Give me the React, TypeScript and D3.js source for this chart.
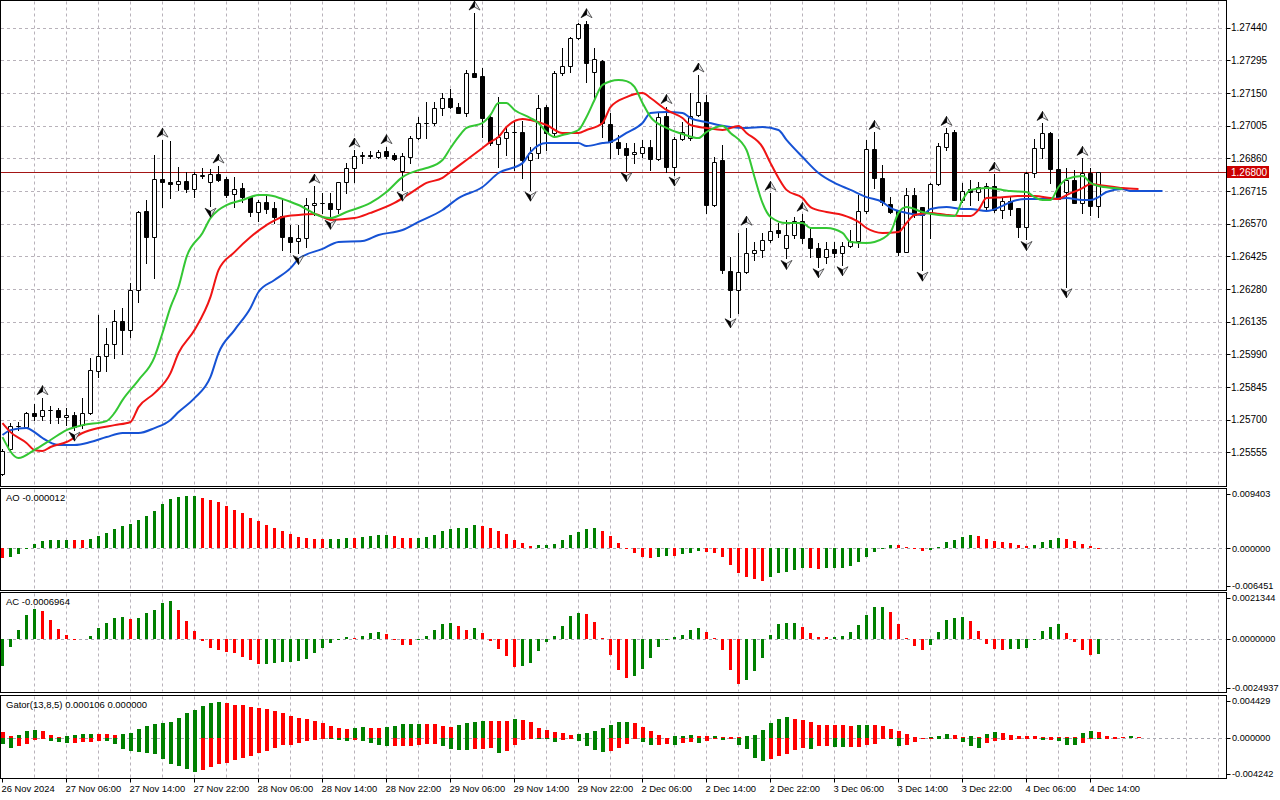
import * as d3 from 'd3';

// H1 candles, 26 Nov 2024 22:00 .. 4 Dec 2024 15:00 (138 bars)
const opens = [
  1.25458, 1.25572, 1.2567, 1.25669, 1.25728, 1.25718, 1.25743, 1.25743, 1.2571, 1.25723,
  1.25676, 1.25731, 1.25917, 1.25985, 1.26034, 1.26136, 1.26098, 1.26275, 1.26626, 1.26512,
  1.26767, 1.26756, 1.26745, 1.26759, 1.26722, 1.26783, 1.26756, 1.26789, 1.26767, 1.267,
  1.26727, 1.26687, 1.26623, 1.26668, 1.26638, 1.26604, 1.26512, 1.26495, 1.26505, 1.26653,
  1.2666, 1.26663, 1.26634, 1.26756, 1.26816, 1.2687, 1.26873, 1.26868, 1.26893, 1.26875,
  1.26805, 1.26868, 1.26952, 1.27015, 1.27015, 1.27082, 1.27126, 1.27089, 1.2706, 1.27237,
  1.27226, 1.27045, 1.26924, 1.26949, 1.26978, 1.26978, 1.26853, 1.26882, 1.27086, 1.26971,
  1.2724, 1.2727, 1.27393, 1.27455, 1.27245, 1.27292, 1.27012, 1.26934, 1.26905, 1.26878,
  1.26886, 1.26909, 1.26857, 1.27048, 1.26823, 1.26945, 1.26949, 1.27053, 1.27112, 1.26653,
  1.26853, 1.26362, 1.26276, 1.26357, 1.26439, 1.26453, 1.26498, 1.26542, 1.26461, 1.2652,
  1.26582, 1.26505, 1.26461, 1.26421, 1.26456, 1.26442, 1.26471, 1.26493, 1.26627, 1.269,
  1.26771, 1.26657, 1.26631, 1.26446, 1.26697, 1.26642, 1.26616, 1.26746, 1.26912, 1.26978,
  1.26675, 1.26722, 1.26712, 1.26645, 1.26737, 1.26631, 1.26672, 1.26638, 1.26554, 1.26796,
  1.26904, 1.26974, 1.26811, 1.26712, 1.26764, 1.2666, 1.26796, 1.26648,
];
const highs = [
  1.25572, 1.25686, 1.25691, 1.25735, 1.25772, 1.25798, 1.25761, 1.2575, 1.2575, 1.25735,
  1.25795, 1.25972, 1.26164, 1.26105, 1.26187, 1.26194, 1.26308, 1.26626, 1.26675, 1.26875,
  1.26941, 1.26937, 1.2682, 1.26801, 1.26801, 1.26816, 1.26811, 1.26826, 1.26776, 1.26776,
  1.26752, 1.26693, 1.26675, 1.26697, 1.26668, 1.26675, 1.26564, 1.26564, 1.26682, 1.26737,
  1.26705, 1.26705, 1.26756, 1.26838, 1.26897, 1.2689, 1.26894, 1.26897, 1.26912, 1.26885,
  1.26882, 1.26959, 1.27045, 1.27112, 1.27112, 1.27149, 1.27166, 1.27104, 1.27252, 1.27505,
  1.2726, 1.27052, 1.27134, 1.27001, 1.2703, 1.27027, 1.26912, 1.27141, 1.27097, 1.27249,
  1.27348, 1.274, 1.27459, 1.27471, 1.27348, 1.27297, 1.2706, 1.26964, 1.26927, 1.26927,
  1.26942, 1.26942, 1.2706, 1.2709, 1.26957, 1.27023, 1.27149, 1.2723, 1.27142, 1.26868,
  1.2692, 1.26424, 1.26527, 1.2655, 1.2649, 1.26527, 1.26705, 1.26572, 1.26587, 1.26601,
  1.26612, 1.2655, 1.26483, 1.2649, 1.2649, 1.2649, 1.26542, 1.26698, 1.26942, 1.26975,
  1.2683, 1.2669, 1.26631, 1.26727, 1.26727, 1.26645, 1.26749, 1.26927, 1.26993, 1.26986,
  1.26749, 1.26764, 1.26756, 1.26749, 1.2679, 1.2669, 1.2669, 1.26638, 1.26801, 1.26944,
  1.27015, 1.26978, 1.26944, 1.26816, 1.26808, 1.2686, 1.26816, 1.268,
];
const lows = [
  1.25454, 1.25565, 1.25654, 1.25665, 1.25701, 1.25698, 1.25686, 1.25686, 1.25676, 1.25654,
  1.25665, 1.25725, 1.25888, 1.25917, 1.25972, 1.25991, 1.26068, 1.26224, 1.26397, 1.26327,
  1.26645, 1.26685, 1.26719, 1.26709, 1.2669, 1.26771, 1.26648, 1.26761, 1.2669, 1.26645,
  1.26668, 1.26604, 1.26583, 1.26616, 1.26571, 1.26453, 1.26446, 1.26438, 1.26468, 1.26609,
  1.26616, 1.26594, 1.26616, 1.26705, 1.26756, 1.26838, 1.2686, 1.2686, 1.2686, 1.26852,
  1.26719, 1.26838, 1.26944, 1.26949, 1.27008, 1.27052, 1.27082, 1.2706, 1.27048, 1.2722,
  1.26956, 1.26919, 1.26823, 1.26875, 1.26808, 1.26771, 1.26719, 1.2686, 1.26897, 1.26956,
  1.2723, 1.27245, 1.2739, 1.272, 1.27119, 1.26956, 1.2686, 1.2688, 1.26806, 1.26838,
  1.26868, 1.26809, 1.26853, 1.26801, 1.26786, 1.26942, 1.26942, 1.2705, 1.26616, 1.2665,
  1.2635, 1.26157, 1.26172, 1.2635, 1.26409, 1.26424, 1.2649, 1.26513, 1.26416, 1.26505,
  1.26483, 1.26424, 1.26379, 1.26394, 1.26424, 1.26388, 1.26468, 1.26468, 1.26616, 1.26727,
  1.26653, 1.26616, 1.26431, 1.26446, 1.26601, 1.26364, 1.26505, 1.26742, 1.26897, 1.26675,
  1.26668, 1.26653, 1.26675, 1.26631, 1.26623, 1.26594, 1.26608, 1.26512, 1.265, 1.26779,
  1.2686, 1.26752, 1.26678, 1.2629, 1.2666, 1.26616, 1.26608, 1.26601,
];
const closes = [
  1.2556, 1.25672, 1.25674, 1.25728, 1.25718, 1.25743, 1.25745, 1.2571, 1.25723, 1.25669,
  1.25732, 1.2592, 1.25985, 1.26034, 1.26136, 1.26098, 1.26275, 1.2662, 1.26509, 1.26767,
  1.26756, 1.26745, 1.26759, 1.26724, 1.2679, 1.26787, 1.26789, 1.26764, 1.26697, 1.26722,
  1.26687, 1.26623, 1.26668, 1.26634, 1.26598, 1.26512, 1.2649, 1.26505, 1.26653, 1.2666,
  1.26663, 1.26634, 1.26753, 1.26816, 1.2687, 1.26873, 1.2687, 1.2689, 1.26872, 1.26856,
  1.26872, 1.26952, 1.27015, 1.27018, 1.27082, 1.27126, 1.27086, 1.27063, 1.27237, 1.27223,
  1.27038, 1.26927, 1.26953, 1.26978, 1.26975, 1.26853, 1.26882, 1.27082, 1.26971, 1.2724,
  1.2727, 1.27396, 1.27455, 1.27285, 1.273, 1.27015, 1.26934, 1.26905, 1.26875, 1.2689,
  1.26909, 1.26857, 1.27042, 1.26823, 1.26945, 1.26979, 1.27048, 1.27109, 1.26653, 1.26846,
  1.26365, 1.26276, 1.26357, 1.26442, 1.26453, 1.26498, 1.26538, 1.26527, 1.2652, 1.26582,
  1.26505, 1.26461, 1.26421, 1.26456, 1.26442, 1.26471, 1.26493, 1.26627, 1.269, 1.26772,
  1.26665, 1.26623, 1.26446, 1.26697, 1.26608, 1.26608, 1.26746, 1.26915, 1.26971, 1.26675,
  1.26716, 1.26712, 1.26731, 1.26737, 1.26631, 1.26672, 1.26634, 1.26554, 1.26796, 1.26904,
  1.26971, 1.26811, 1.26678, 1.26764, 1.2666, 1.26793, 1.26648, 1.268,
];

const fractalUpBars = [5, 20, 27, 39, 44, 48, 59, 73, 83, 87, 93, 96, 100, 109, 118, 124, 130, 135];
const fractalDownBars = [9, 26, 37, 41, 50, 66, 78, 84, 91, 98, 102, 105, 115, 128, 133];

// Alligator lines, sampled (bar position already includes the forward shift)
const jawBars = [0, 1, 3, 4, 5, 7, 9, 11, 13, 15, 17, 19, 21, 22, 24, 26, 27, 29, 31, 32, 34, 36, 37, 40, 42, 45, 47, 50, 52, 55, 57, 60, 62, 65, 66, 68, 70, 72, 73, 75, 76, 78, 80, 81, 83, 85, 86, 88, 91, 93, 95, 97, 98, 100, 102, 104, 106, 108, 110, 111, 113, 115, 116, 118, 120, 121, 123, 125, 126, 128, 130, 131, 133, 135, 136, 137, 138, 140, 141, 143, 145];
const jawValues = [1.25632, 1.25654, 1.25663, 1.25645, 1.25619, 1.25588, 1.25588, 1.25601, 1.25623, 1.25641, 1.25641, 1.25663, 1.25699, 1.25734, 1.25796, 1.2589, 1.25996, 1.26098, 1.26196, 1.26267, 1.2632, 1.26373, 1.26413, 1.26458, 1.26489, 1.26493, 1.2652, 1.26542, 1.26578, 1.26631, 1.26684, 1.26733, 1.26795, 1.26839, 1.26888, 1.26928, 1.26928, 1.26928, 1.26915, 1.26928, 1.26933, 1.26973, 1.27017, 1.27061, 1.27066, 1.27061, 1.27039, 1.27021, 1.26999, 1.26995, 1.26999, 1.26986, 1.26942, 1.26866, 1.26795, 1.26751, 1.2672, 1.26688, 1.26666, 1.2664, 1.26618, 1.26609, 1.26635, 1.26644, 1.26635, 1.26635, 1.26626, 1.26649, 1.26666, 1.2668, 1.2668, 1.2668, 1.26684, 1.26675, 1.26675, 1.26688, 1.26711, 1.26724, 1.26715, 1.26715, 1.26715];
const teethBars = [0, 1, 3, 4, 5, 6, 8, 10, 12, 14, 16, 17, 19, 21, 22, 24, 26, 27, 29, 31, 33, 35, 37, 39, 41, 44, 46, 49, 51, 53, 55, 56, 58, 60, 61, 62, 63, 65, 66, 68, 70, 72, 73, 75, 76, 78, 80, 81, 83, 85, 86, 88, 90, 92, 93, 95, 96, 97, 98, 100, 101, 103, 105, 107, 108, 110, 112, 113, 114, 116, 118, 120, 121, 122, 123, 125, 127, 129, 131, 132, 133, 135, 136, 137, 139, 140, 142];
const teethValues = [1.25685, 1.25645, 1.25597, 1.25566, 1.25561, 1.25579, 1.25601, 1.25641, 1.25663, 1.25676, 1.2569, 1.25756, 1.25818, 1.25907, 1.25996, 1.26098, 1.26245, 1.26364, 1.26444, 1.26511, 1.26564, 1.266, 1.26609, 1.26613, 1.26587, 1.26595, 1.26618, 1.26662, 1.26706, 1.26751, 1.26773, 1.268, 1.26853, 1.26906, 1.26933, 1.26955, 1.26999, 1.27035, 1.2703, 1.27008, 1.26973, 1.26973, 1.26986, 1.27017, 1.27088, 1.27132, 1.2715, 1.27128, 1.27075, 1.27039, 1.27008, 1.26995, 1.26986, 1.27004, 1.26973, 1.2691, 1.26839, 1.26773, 1.2672, 1.26684, 1.26644, 1.26622, 1.26609, 1.26578, 1.26551, 1.26529, 1.26533, 1.26573, 1.26609, 1.26618, 1.26609, 1.26604, 1.26604, 1.26631, 1.26684, 1.26688, 1.26693, 1.26693, 1.26684, 1.2668, 1.26697, 1.26728, 1.26746, 1.26742, 1.26733, 1.26728, 1.26724];
const lipsBars = [0, 2, 4, 6, 8, 10, 13, 14, 15, 17, 19, 20, 21, 22, 23, 25, 26, 27, 28, 30, 32, 33, 35, 37, 40, 41, 43, 46, 48, 50, 52, 53, 55, 56, 57, 58, 60, 61, 62, 63, 64, 66, 67, 68, 69, 70, 72, 73, 74, 75, 77, 78, 79, 80, 81, 83, 85, 87, 88, 90, 91, 93, 94, 95, 96, 98, 100, 101, 103, 105, 106, 108, 109, 111, 112, 113, 115, 117, 119, 120, 121, 123, 125, 126, 128, 129, 130, 131, 132, 133, 135, 136, 137, 139, 140];
const lipsValues = [1.25623, 1.2553, 1.25566, 1.2561, 1.25654, 1.25676, 1.25694, 1.2573, 1.25787, 1.25876, 1.25978, 1.26085, 1.262, 1.26289, 1.26422, 1.26529, 1.26595, 1.26631, 1.26653, 1.26675, 1.26697, 1.26697, 1.2668, 1.26653, 1.266, 1.26595, 1.26622, 1.26662, 1.26711, 1.26777, 1.26808, 1.26817, 1.26853, 1.26906, 1.26955, 1.26995, 1.27017, 1.27053, 1.27106, 1.27106, 1.27075, 1.27039, 1.27017, 1.26977, 1.26955, 1.26964, 1.26986, 1.27044, 1.27119, 1.27186, 1.27208, 1.27203, 1.27177, 1.27106, 1.27044, 1.26995, 1.26968, 1.2695, 1.26977, 1.27004, 1.26973, 1.26897, 1.26777, 1.26662, 1.266, 1.26573, 1.26573, 1.26551, 1.26551, 1.26529, 1.26489, 1.26484, 1.26489, 1.26533, 1.26618, 1.26644, 1.26622, 1.26609, 1.26604, 1.26675, 1.2672, 1.26728, 1.2672, 1.26715, 1.26711, 1.26688, 1.26675, 1.26675, 1.26733, 1.26768, 1.26782, 1.26751, 1.26737, 1.26728, 1.26724];

const aoValues = [
  -0.0017, -0.00142, -0.00097, 0.0001, 0.00074, 0.00125, 0.00142, 0.00143, 0.00145, 0.0014,
  0.00138, 0.00159, 0.0021, 0.00261, 0.00329, 0.0038, 0.00415, 0.00483, 0.00551, 0.00636,
  0.00755, 0.0084, 0.00875, 0.00892, 0.00895, 0.00863, 0.00823, 0.00789, 0.00721, 0.00653,
  0.00596, 0.00517, 0.00466, 0.00392, 0.00346, 0.00295, 0.00239, 0.00199, 0.00182, 0.00165,
  0.00163, 0.00165, 0.00167, 0.00176, 0.00172, 0.00193, 0.0021, 0.00227, 0.00229, 0.0021,
  0.00182, 0.00181, 0.00183, 0.00199, 0.00227, 0.00295, 0.00335, 0.00352, 0.00353, 0.00398,
  0.0038, 0.00352, 0.00295, 0.00244, 0.00142, 0.00091, 0.0004, 0.00057, 0.00058, 0.00074,
  0.00142, 0.00227, 0.00273, 0.00335, 0.00352, 0.00295, 0.0021, 0.00091, 0.00011, -0.00074,
  -0.00142, -0.00159, -0.00142, -0.00125, -0.00128, -0.00102, -0.00074, -0.0004, -0.00057, -0.00074,
  -0.00142, -0.00284, -0.00415, -0.00483, -0.00528, -0.00551, -0.00483, -0.00415, -0.00398, -0.00369,
  -0.00341, -0.00343, -0.00345, -0.0034, -0.0033, -0.00328, -0.00295, -0.00227, -0.00142, -0.00057,
  -0.00006, 0.00057, 0.00052, 0.00028, 0.00002, -0.0004, -0.00035, 0.00023, 0.00114, 0.00142,
  0.00199, 0.00227, 0.00216, 0.00159, 0.00125, 0.00114, 0.00091, 0.00057, 0.0004, 0.00057,
  0.00102, 0.00142, 0.00182, 0.00159, 0.00125, 0.00074, 0.0004, -0.000012,
];
const aoBefore = -0.0016;
const acValues = [
  -0.00127, -0.00036, 0.00043, 0.00114, 0.00143, 0.00133, 0.00091, 0.00048, 0.0002, 0.00002,
  0.0, 0.00015, 0.00053, 0.00076, 0.001, 0.00105, 0.00095, 0.00101, 0.00124, 0.00138,
  0.00171, 0.0018, 0.00138, 0.00086, 0.00039, -0.00009, -0.00042, -0.00051, -0.0006, -0.00065,
  -0.00082, -0.00098, -0.00116, -0.00115, -0.00111, -0.00108, -0.00106, -0.00101, -0.00092, -0.00064,
  -0.0004, -0.00016, -0.00004, 0.0001, 0.00006, 0.00015, 0.00031, 0.00034, 0.00025, -0.00004,
  -0.00026, -0.00027, -0.00004, 0.00015, 0.00043, 0.00072, 0.00077, 0.00062, 0.00043, 0.00053,
  0.00029, -0.00007, -0.00045, -0.00078, -0.00131, -0.00125, -0.00111, -0.00054, -0.00012, 0.00015,
  0.00062, 0.0011, 0.00124, 0.00119, 0.00081, 0.00006, -0.00073, -0.00144, -0.00182, -0.00172,
  -0.0014, -0.00087, -0.00035, -0.00001, 0.0001, 0.00021, 0.00043, 0.00053, 0.00034, 0.00006,
  -0.0005, -0.00146, -0.0021, -0.00191, -0.00149, -0.00087, 0.0002, 0.00073, 0.00076, 0.00077,
  0.00058, 0.00029, 0.0001, 0.00009, 0.0001, 0.00015, 0.00034, 0.00068, 0.00114, 0.00152,
  0.00153, 0.00128, 0.00072, 0.00006, -0.00031, -0.0005, -0.00026, 0.00034, 0.00091, 0.001,
  0.00105, 0.00086, 0.00039, -0.00021, -0.00045, -0.0005, -0.00046, -0.00044, -0.0004, 0.00001,
  0.00039, 0.00058, 0.00072, 0.00029, -0.00012, -0.0005, -0.00073, -0.0006964,
];
const acBefore = -0.0015;
const gatorUpper = [
  0.00066, 0.00018, 0.00033, 0.00077, 0.00091, 0.00077, 0.00037, 0.00015, 0.00016, 0.00037,
  0.00044, 0.00045, 0.00044, 0.00043, 0.00029, 0.00044, 0.00059, 0.00102, 0.00132, 0.00154,
  0.00168, 0.00176, 0.00219, 0.00271, 0.00311, 0.00351, 0.00384, 0.00395, 0.00384, 0.00362,
  0.00361, 0.0034, 0.00329, 0.00318, 0.00296, 0.00274, 0.00241, 0.0022, 0.00209, 0.00187,
  0.00165, 0.00132, 0.00113, 0.00099, 0.00113, 0.00117, 0.00114, 0.0011, 0.00121, 0.00132,
  0.00154, 0.00155, 0.00156, 0.00154, 0.00152, 0.00132, 0.00121, 0.00143, 0.00165, 0.00176,
  0.00187, 0.00185, 0.00183, 0.00182, 0.00209, 0.00198, 0.00176, 0.0011, 0.00088, 0.00066,
  0.00055, 0.00033, 0.00044, 0.00055, 0.00077, 0.0011, 0.00143, 0.00176, 0.00177, 0.00165,
  0.00121, 0.00077, 0.00033, 0.00002, 0.00022, 0.00023, 0.00033, 0.00022, 0.00021, 0.00022,
  0.00015, 0.00011, 0.00008, 0.00018, 0.00037, 0.00091, 0.00165, 0.00209, 0.0023, 0.00209,
  0.00198, 0.00176, 0.00143, 0.00142, 0.00141, 0.00139, 0.00132, 0.00143, 0.00144, 0.00139,
  0.00128, 0.001, 0.00077, 0.00044, 0.00011, 0.00004, 0.00006, 0.00022, 0.00044, 0.00033,
  0.00011, 0.00022, 0.00011, 0.00044, 0.00066, 0.00055, 0.00033, 0.00022, 0.00021, 0.0002,
  0.0001, 0.00009, 0.00008, 0.00007, 0.00005, 0.00055, 0.00077, 0.00066, 0.00022, 0.00011,
  0.0001, 0.00022, 0.000106,
];
const gatorUpperBefore = 0.0008;
const gatorLower = [
  -0.00062, -0.0011, -0.00091, -0.00062, -0.00018, -0.00004, -0.00029, -0.00044, -0.00055, -0.00054,
  -0.00044, -0.00043, -0.00029, -0.0003, -0.00066, -0.00121, -0.00139, -0.00154, -0.00165, -0.00176,
  -0.00227, -0.00285, -0.00304, -0.0034, -0.00373, -0.00351, -0.00318, -0.00285, -0.00271, -0.00245,
  -0.0022, -0.00194, -0.00165, -0.00139, -0.0011, -0.00077, -0.00076, -0.00055, -0.00037, -0.00018,
  -0.00007, -0.00008, -0.00018, -0.00029, -0.00018, -0.00029, -0.00055, -0.00073, -0.00091, -0.0009,
  -0.00088, -0.00084, -0.00073, -0.00062, -0.00061, -0.00084, -0.00121, -0.00128, -0.00131, -0.00117,
  -0.00116, -0.00115, -0.00165, -0.00139, -0.00073, -0.00018, -0.00004, -0.00011, -0.00012, -0.00044,
  -0.00018, -0.00002, -0.00029, -0.00084, -0.00128, -0.00154, -0.00139, -0.00106, -0.00062, -0.00002,
  -0.00044, -0.00073, -0.00072, -0.00071, -0.00074, -0.00051, -0.0004, -0.00051, -0.00029, -0.00004,
  -0.00018, -0.00011, -0.00073, -0.00117, -0.0022, -0.00252, -0.0023, -0.00201, -0.00176, -0.00128,
  -0.0011, -0.00117, -0.00091, -0.0009, -0.00095, -0.00096, -0.00095, -0.00094, -0.00077, -0.00066,
  -0.00004, -0.00006, -0.00084, -0.00073, -0.0004, -0.00004, -0.00002, -0.00003, -0.00004, -0.00002,
  -0.0004, -0.00091, -0.00106, -0.00055, -0.00029, -0.00018, -0.00018, -0.00011, -0.00011, -0.00004,
  -0.00018, -0.00017, -0.00029, -0.00073, -0.00074, -0.00051, -0.0001, -0.00011, -0.00004, -0.00002,
  0,
];
const gatorLowerBefore = -0.0005;

const priceTicks = [1.25555, 1.257, 1.25845, 1.2599, 1.26135, 1.2628, 1.26425, 1.2657, 1.26715, 1.2686, 1.27005, 1.2715, 1.27295, 1.2744];
const lastPrice = 1.268;
const aoScale = [0.009403, 0, -0.006451];
const acScale = [0.0021344, 0, -0.0024937];
const gatorScale = [0.004429, 0, -0.004242];

const timeLabels = ['26 Nov 2024', '27 Nov 06:00', '27 Nov 14:00', '27 Nov 22:00', '28 Nov 06:00', '28 Nov 14:00', '28 Nov 22:00', '29 Nov 06:00', '29 Nov 14:00', '29 Nov 22:00', '2 Dec 06:00', '2 Dec 14:00', '2 Dec 22:00', '3 Dec 06:00', '3 Dec 14:00', '3 Dec 22:00', '4 Dec 06:00', '4 Dec 14:00'];
const timeLabelBars = [0, 8, 16, 24, 32, 40, 48, 56, 64, 72, 80, 88, 96, 104, 112, 120, 128, 136];

const FONT = '"Liberation Sans", Arial, Helvetica, sans-serif';
const GRID = '#b8b2ba';
const UP = '#008000';
const DOWN = '#ff0000';
const AXIS_X = 1226.5;

const panels = {
  main: { top: 0.5, bottom: 486.5 },
  ao: { top: 488.5, bottom: 590.5 },
  ac: { top: 592.5, bottom: 692.5 },
  gator: { top: 695.5, bottom: 778.5 },
};

const crisp = (v: number) => Math.round(v) + 0.5;

function Fractal({ cx, y, up }: { cx: number; y: number; up: boolean }) {
  const s = up ? 1 : -1;
  // base centre at (cx, y), tip points away from the candle
  const left = `M${cx},${y - 9 * s} L${cx - 5.5},${y} L${cx},${y - 3 * s} Z`;
  const right = `M${cx},${y - 9 * s} L${cx + 5.5},${y} L${cx},${y - 3 * s} Z`;
  return (
    <g>
      <path d={right} fill="#e6e6ea" stroke="#3a3a3a" strokeWidth={0.8} />
      <path d={left} fill="#000" stroke="#000" strokeWidth={0.6} />
    </g>
  );
}

export default function App() {
  const x = d3.scaleLinear().domain([0, 1]).range([2.5, 10.5]);
  const price = d3.scaleLinear().domain([1.25555, 1.2744]).range([452.4, 27.7]);
  const aoY = d3.scaleLinear().domain([-0.006451, 0.009403]).range([586.2, 493.1]);
  const acY = d3.scaleLinear().domain([-0.0024937, 0.0021344]).range([692, 594]);
  const gatorY = d3.scaleLinear().domain([-0.004242, 0.004429]).range([776.6, 697.6]);

  const gridBars = d3.range(4, 153, 4);

  const linePath = (bars: number[], vals: number[]) =>
    d3.line<number>()
      .x((b) => x(b))
      .y((_, k) => price(vals[k]))
      .curve(d3.curveMonotoneX)(bars) || '';

  const vGrid = (top: number, bottom: number) =>
    gridBars.map((b) => (
      <line key={`vg${top}-${b}`} x1={x(b)} x2={x(b)} y1={top + 1} y2={bottom - 1}
        stroke={GRID} strokeDasharray="3,3" />
    ));

  const histogram = (
    vals: number[], yScale: d3.ScaleLinear<number, number>, before: number,
    width: number, useAbs: boolean, keyPrefix: string,
  ) => {
    const y0 = Math.round(yScale(0));
    return vals.map((v, i) => {
      const prev = i === 0 ? before : vals[i - 1];
      const rising = useAbs ? Math.abs(v) > Math.abs(prev) : v > prev;
      const y1 = Math.round(yScale(v));
      const h = Math.abs(y1 - y0);
      if (h < 1 && v === 0) return null;
      return (
        <rect key={`${keyPrefix}${i}`} x={Math.floor(x(i)) - 1} y={Math.min(y0, y1)}
          width={width} height={Math.max(1, h)} fill={rising ? UP : DOWN} />
      );
    });
  };

  const scaleLabels = (vals: number[], yScale: d3.ScaleLinear<number, number>, digits: number,
    top: number, bottom: number, keyPrefix: string) =>
    vals.map((v) => {
      const yy = Math.min(bottom - 5, Math.max(top + 5, yScale(v)));
      return (
        <g key={`${keyPrefix}${v}`}>
          <line x1={AXIS_X} x2={AXIS_X + 4} y1={crisp(yy)} y2={crisp(yy)} stroke="#000" />
          <text x={1232} y={yy + 3.3} fontSize={9.2}>{v.toFixed(digits)}</text>
        </g>
      );
    });

  const zeroLine = (yScale: d3.ScaleLinear<number, number>) => (
    <line x1={1} x2={AXIS_X - 1} y1={crisp(yScale(0))} y2={crisp(yScale(0))}
      stroke="#a8a8b0" strokeDasharray="3,3" />
  );

  const lastY = crisp(price(lastPrice));

  return (
    <div style={{ position: 'absolute', left: 0, top: 0 }}>
      <svg width={1280} height={800} style={{ display: 'block', background: '#fff' }}
        fontFamily={FONT}>
        <defs>
          <clipPath id="clipMain"><rect x={1} y={1} width={1225} height={485} /></clipPath>
          <clipPath id="clipAo"><rect x={1} y={489} width={1225} height={101} /></clipPath>
          <clipPath id="clipAc"><rect x={1} y={593} width={1225} height={99} /></clipPath>
          <clipPath id="clipGator"><rect x={1} y={696} width={1225} height={82} /></clipPath>
        </defs>

        {/* main price window */}
        <g clipPath="url(#clipMain)">
          {vGrid(panels.main.top, panels.main.bottom)}
          {priceTicks.map((p) => (
            <line key={`hg${p}`} x1={1} x2={AXIS_X - 1} y1={crisp(price(p))} y2={crisp(price(p))}
              stroke={GRID} strokeDasharray="3,3" />
          ))}
          <line x1={1} x2={AXIS_X} y1={lastY} y2={lastY} stroke="#a31515" />

          {opens.map((o, i) => {
            const c = closes[i];
            const cx = x(i);
            const top = crisp(price(Math.max(o, c)));
            const bot = crisp(price(Math.min(o, c)));
            const bull = c >= o;
            return (
              <g key={`c${i}`}>
                <line x1={cx} x2={cx} y1={Math.round(price(highs[i]))} y2={Math.round(price(lows[i])) + 1}
                  stroke="#000" />
                <path d={`M${cx - 2},${top}h4v${bot - top}h-4Z`} fill={bull ? '#fff' : '#000'}
                  stroke="#000" strokeWidth={1} />
              </g>
            );
          })}

          <path d={linePath(jawBars, jawValues)} fill="none" stroke="#1652d4" strokeWidth={2} />
          <path d={linePath(teethBars, teethValues)} fill="none" stroke="#f01414" strokeWidth={2} />
          <path d={linePath(lipsBars, lipsValues)} fill="none" stroke="#34c734" strokeWidth={2} />

          {fractalUpBars.map((b) => (
            <Fractal key={`fu${b}`} cx={x(b)} y={price(highs[b]) - 3} up />
          ))}
          {fractalDownBars.map((b) => (
            <Fractal key={`fd${b}`} cx={x(b)} y={price(lows[b]) + 2} up={false} />
          ))}
        </g>

        {/* AO */}
        <g clipPath="url(#clipAo)">
          {vGrid(panels.ao.top, panels.ao.bottom)}
          {zeroLine(aoY)}
          {histogram(aoValues, aoY, aoBefore, 3, false, 'ao')}
        </g>
        <text x={6} y={501} fontSize={9.5}>AO {aoValues[aoValues.length - 1].toFixed(6)}</text>

        {/* AC */}
        <g clipPath="url(#clipAc)">
          {vGrid(panels.ac.top, panels.ac.bottom)}
          {zeroLine(acY)}
          {histogram(acValues, acY, acBefore, 3, false, 'ac')}
        </g>
        <text x={6} y={605} fontSize={9.5}>AC {acValues[acValues.length - 1].toFixed(7)}</text>

        {/* Gator */}
        <g clipPath="url(#clipGator)">
          {vGrid(panels.gator.top, panels.gator.bottom)}
          {zeroLine(gatorY)}
          {histogram(gatorUpper, gatorY, gatorUpperBefore, 4, true, 'gu')}
          {histogram(gatorLower, gatorY, gatorLowerBefore, 4, true, 'gl')}
        </g>
        <text x={6} y={708} fontSize={9.5}>
          Gator(13,8,5) {gatorUpper[gatorUpper.length - 1].toFixed(6)} {Math.abs(gatorLower[gatorLower.length - 1]).toFixed(6)}
        </text>

        {/* frames */}
        {Object.entries(panels).map(([k, p]) => (
          <rect key={`fr${k}`} x={0.5} y={p.top} width={AXIS_X - 0.5} height={p.bottom - p.top}
            fill="none" stroke="#000" />
        ))}

        {/* price axis */}
        {priceTicks.map((p) => (
          <g key={`pt${p}`}>
            <line x1={AXIS_X} x2={AXIS_X + 4} y1={crisp(price(p))} y2={crisp(price(p))} stroke="#000" />
            <text x={1231} y={price(p) + 3.5} fontSize={10}>{p.toFixed(5)}</text>
          </g>
        ))}
        <rect x={1227} y={lastY - 6.5} width={42} height={12} fill="#cc0000" />
        <text x={1231} y={lastY + 3.5} fontSize={10} fill="#fff">{lastPrice.toFixed(5)}</text>

        {scaleLabels(aoScale, aoY, 6, panels.ao.top, panels.ao.bottom, 'aos')}
        {scaleLabels(acScale, acY, 7, panels.ac.top, panels.ac.bottom, 'acs')}
        {scaleLabels(gatorScale, gatorY, 6, panels.gator.top, panels.gator.bottom, 'gs')}

        {/* time axis */}
        {timeLabels.map((t, k) => {
          const tx = x(timeLabelBars[k]);
          return (
            <g key={`t${k}`}>
              <line x1={tx} x2={tx} y1={panels.gator.bottom} y2={panels.gator.bottom + 4} stroke="#000" />
              <text x={tx - 1} y={792} fontSize={9.4}>{t}</text>
            </g>
          );
        })}
      </svg>
    </div>
  );
}
